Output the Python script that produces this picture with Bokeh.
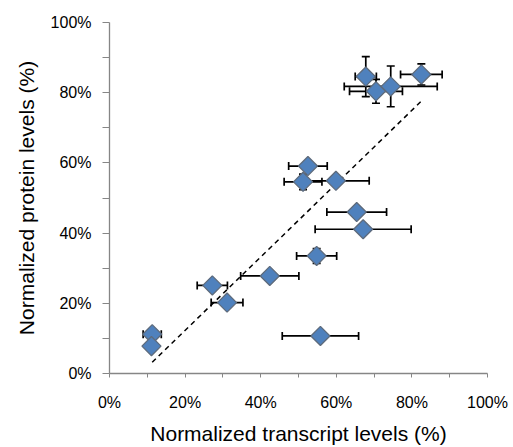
import math
from bokeh.plotting import figure
from bokeh.models import (ColumnDataSource, Whisker, TeeHead, Range1d, FixedTicker,
                          PrintfTickFormatter)
from bokeh.embed import file_html
from bokeh.resources import INLINE

# Data (percent)
transcript = [67.8, 82.5, 70.5, 74.4, 52.5, 51.2, 59.9, 65.4, 67.1, 54.8, 42.4, 27.2, 31.1, 11.3, 11.1, 55.8]
protein = [84.6, 85.2, 80.4, 81.8, 59.1, 54.6, 54.9, 46.0, 41.1, 33.5, 27.8, 25.1, 20.2, 11.2, 7.8, 10.7]
transcript_err = [2.8, 5.5, 7.0, 12.3, 5.1, 5.0, 8.8, 7.9, 12.7, 5.3, 7.7, 4.0, 4.2, 2.4, 0.5, 10.1]
protein_err = [5.7, 3.0, 3.4, 5.8, 0.5, 2.2, 0.5, 0.5, 0.5, 2.1, 0.5, 0.5, 0.5, 0.5, 0.5, 0.5]
trend_x = [11.3, 82.5]
trend_y = [3.2, 77.6]
major_ticks = [0, 20, 40, 60, 80, 100]
minor_ticks = [10, 30, 50, 70, 90]

src = ColumnDataSource(dict(
    x=transcript, y=protein,
    xl=[a - e for a, e in zip(transcript, transcript_err)],
    xu=[a + e for a, e in zip(transcript, transcript_err)],
    yl=[a - e for a, e in zip(protein, protein_err)],
    yu=[a + e for a, e in zip(protein, protein_err)],
))

p = figure(width=513, height=447, output_backend="svg", toolbar_location=None,
           x_range=Range1d(0, 100), y_range=Range1d(0, 100),
           min_border_left=109, min_border_right=26, min_border_top=22, min_border_bottom=74)
p.outline_line_color = None
p.grid.visible = False
p.background_fill_color = "white"

FONT = "Liberation Sans"
for ax, lab in ((p.xaxis[0], "Normalized transcript levels (%)"), (p.yaxis[0], "Normalized protein levels (%)")):
    ax.ticker = FixedTicker(ticks=major_ticks, minor_ticks=minor_ticks)
    ax.formatter = PrintfTickFormatter(format="%d%%")
    ax.axis_label = lab
    ax.axis_label_text_font = FONT
    ax.axis_label_text_font_size = "21px"
    ax.axis_label_text_font_style = "normal"
    ax.axis_label_text_color = "#000000"
    ax.major_label_text_font = FONT
    ax.major_label_text_font_size = "16px"
    ax.major_label_text_color = "#000000"
    ax.axis_line_color = "#868686"
    ax.axis_line_width = 1.3
    ax.major_tick_line_color = "#868686"
    ax.minor_tick_line_color = "#868686"
    ax.major_tick_in = 0
    ax.minor_tick_in = 0

p.xaxis.major_tick_out = 4
p.xaxis.minor_tick_out = 4
p.xaxis.major_label_standoff = 16
p.xaxis.axis_label_standoff = 8
p.yaxis.major_tick_out = 7
p.yaxis.minor_tick_out = 7
p.yaxis.major_label_standoff = 11
p.yaxis.axis_label_standoff = 10

# trendline
p.line(trend_x, trend_y, line_color="black", line_width=1.5, line_dash="5 4")

# error bars
wx = Whisker(source=src, base="y", lower="xl", upper="xu", dimension="width",
             line_color="black", line_width=1.7, level="underlay",
             lower_head=TeeHead(size=8, line_color="black", line_width=1.7),
             upper_head=TeeHead(size=8, line_color="black", line_width=1.7))
wy = Whisker(source=src, base="x", lower="yl", upper="yu", dimension="height",
             line_color="black", line_width=1.7, level="underlay",
             lower_head=TeeHead(size=8, line_color="black", line_width=1.7),
             upper_head=TeeHead(size=8, line_color="black", line_width=1.7))
p.add_layout(wx)
p.add_layout(wy)

p.scatter("x", "y", source=src, marker="square", size=13.5, angle=math.pi / 4,
          fill_color="#4F81BD", line_color="#5E6B7C", line_width=1.3)

open("out.html", "w").write(file_html(p, INLINE))
